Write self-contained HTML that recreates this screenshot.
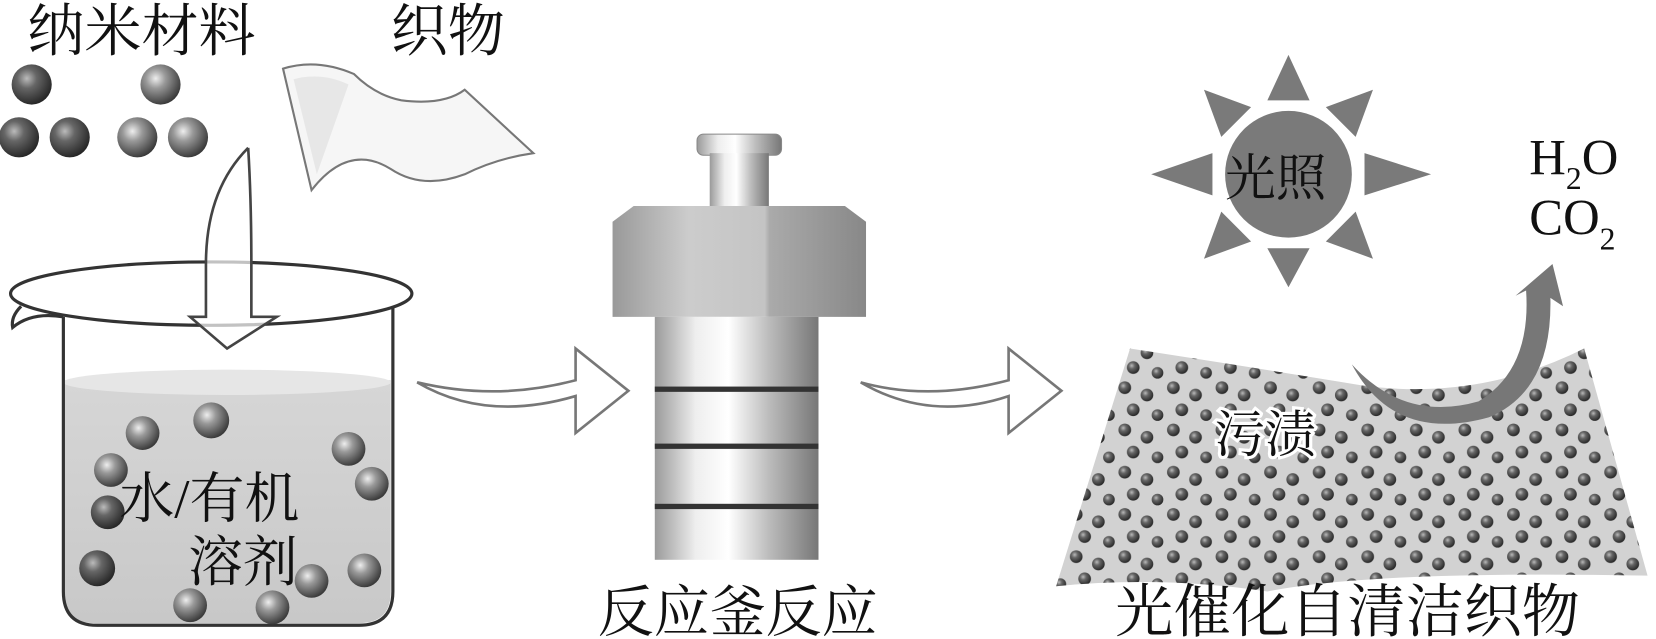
<!DOCTYPE html>
<html><head><meta charset="utf-8"><style>
html,body{margin:0;padding:0;background:#fff;overflow:hidden}
svg{display:block}
text{font-family:"Liberation Serif","Noto Serif CJK SC",serif;fill:#111}
</style></head><body>
<svg width="1656" height="639" viewBox="0 0 1568 605" preserveAspectRatio="none" xmlns="http://www.w3.org/2000/svg">
<defs>
<radialGradient id="ball" cx="0.38" cy="0.35" r="0.7">
<stop offset="0" stop-color="#eee"/><stop offset="0.35" stop-color="#999"/><stop offset="1" stop-color="#333"/></radialGradient>
<radialGradient id="dball" cx="0.38" cy="0.35" r="0.7">
<stop offset="0" stop-color="#bbb"/><stop offset="0.35" stop-color="#666"/><stop offset="1" stop-color="#222"/></radialGradient>
<linearGradient id="metal" x1="0" x2="1" y1="0" y2="0">
<stop offset="0" stop-color="#9a9a9a"/><stop offset="0.25" stop-color="#eee"/><stop offset="0.45" stop-color="#fff"/><stop offset="0.7" stop-color="#bbb"/><stop offset="1" stop-color="#777"/></linearGradient>
<linearGradient id="hex" x1="0" x2="1">
<stop offset="0" stop-color="#999"/><stop offset="0.3" stop-color="#ccc"/><stop offset="0.6" stop-color="#c4c4c4"/><stop offset="0.62" stop-color="#aaa"/><stop offset="1" stop-color="#888"/></linearGradient>
<linearGradient id="liq" x1="0" y1="0" x2="0" y2="1">
<stop offset="0" stop-color="#d6d6d6"/><stop offset="1" stop-color="#c8c8c8"/></linearGradient>
<pattern id="dots" width="46" height="40" patternUnits="userSpaceOnUse">
<circle cx="7" cy="7" r="6" fill="url(#dball)"/><circle cx="28" cy="14" r="6" fill="url(#dball)"/>
<circle cx="15" cy="28" r="6" fill="url(#dball)"/><circle cx="38" cy="33" r="5.5" fill="url(#dball)"/>
</pattern>
</defs>

<text x="26" y="48" font-size="54">纳米材料</text>
<text x="370" y="48" font-size="54">织物</text>
<circle cx="30" cy="80" r="19" fill="url(#dball)"/>
<circle cx="152" cy="80" r="19" fill="url(#ball)"/>
<circle cx="18" cy="130" r="19" fill="url(#dball)"/>
<circle cx="66" cy="130" r="19" fill="url(#dball)"/>
<circle cx="130" cy="130" r="19" fill="url(#ball)"/>
<circle cx="178" cy="130" r="19" fill="url(#ball)"/>
<path d="M268 65 Q300 55 335 70 Q355 90 380 95 Q420 100 440 85 L505 145 Q470 150 440 165 Q400 180 370 160 Q330 135 295 180 Z" fill="#f6f6f6" stroke="#777" stroke-width="2"/>
<path d="M278 75 Q305 68 330 80 L300 165 Z" fill="#ddd" opacity="0.6"/>

<path d="M60 360 L370 360 L370 560 Q370 590 340 590 L90 590 Q60 590 60 560 Z" fill="url(#liq)"/>
<ellipse cx="215" cy="362" rx="155" ry="12" fill="#e6e6e6"/>
<path d="M60 300 L60 560 Q60 592 92 592 L340 592 Q372 592 372 560 L372 290" fill="none" stroke="#333" stroke-width="3"/>
<path d="M20 290 Q10 300 12 310 Q30 295 60 300" fill="none" stroke="#333" stroke-width="3"/>
<ellipse cx="200" cy="278" rx="190" ry="30" fill="none" stroke="#333" stroke-width="3"/>
<path d="M235 140 Q195 180 195 250 L195 300 L180 300 L215 330 L262 300 L238 300 L238 250 Q238 190 235 140" fill="#fff" fill-opacity="0.7" stroke="#444" stroke-width="2.5"/>
<g>
<circle cx="200" cy="398" r="17" fill="url(#ball)"/>
<circle cx="135" cy="410" r="16" fill="url(#ball)"/>
<circle cx="330" cy="425" r="16" fill="url(#ball)"/>
<circle cx="105" cy="445" r="16" fill="url(#ball)"/>
<circle cx="352" cy="458" r="16" fill="url(#ball)"/>
<circle cx="102" cy="485" r="16" fill="url(#dball)"/>
<circle cx="92" cy="538" r="17" fill="url(#dball)"/>
<circle cx="345" cy="540" r="16" fill="url(#ball)"/>
<circle cx="295" cy="550" r="16" fill="url(#ball)"/>
<circle cx="180" cy="573" r="16" fill="url(#ball)"/>
<circle cx="258" cy="575" r="16" fill="url(#ball)"/>
</g>
<text x="113" y="490" font-size="52">水/有机</text>
<text x="178" y="550" font-size="52">溶剂</text>

<path d="M395 362 Q460 400 545 375 L545 410 L595 370 L545 330 L545 360 Q470 380 395 362 Z" fill="#fff" stroke="#777" stroke-width="2.5"/>

<rect x="660" y="127" width="80" height="20" rx="6" fill="url(#metal)" stroke="#888"/>
<rect x="672" y="145" width="56" height="55" fill="url(#metal)"/>
<path d="M580 210 L600 195 L800 195 L820 210 L820 300 L580 300 Z" fill="url(#hex)"/>
<rect x="620" y="300" width="155" height="230" fill="url(#metal)"/>
<rect x="620" y="366" width="155" height="5" fill="#333"/>
<rect x="620" y="420" width="155" height="5" fill="#333"/>
<rect x="620" y="477" width="155" height="5" fill="#333"/>
<text x="566" y="598" font-size="53">反应釜反应</text>

<path d="M815 362 Q880 400 955 375 L955 410 L1005 370 L955 330 L955 360 Q880 380 815 362 Z" fill="#fff" stroke="#777" stroke-width="2.5"/>

<g fill="#7a7a7a">
<circle cx="1220" cy="165" r="60"/>
<polygon points="1200,95 1240,95 1220,52"/>
<polygon points="1200,235 1240,235 1220,272"/>
<polygon points="1148,145 1148,185 1090,165"/>
<polygon points="1292,145 1292,185 1355,165"/>
<polygon points="1184.6,101.4 1156.4,129.6 1140,85"/>
<polygon points="1283.6,129.6 1255.4,101.4 1300,85"/>
<polygon points="1184.6,228.6 1156.4,200.4 1140,245"/>
<polygon points="1283.6,200.4 1255.4,228.6 1300,245"/>
</g>
<text x="1160" y="185" font-size="48">光照</text>
<text x="1448" y="165" font-size="48">H<tspan font-size="30" dy="14">2</tspan><tspan dy="-14">O</tspan></text>
<text x="1448" y="222" font-size="48">CO<tspan font-size="30" dy="14">2</tspan></text>

<path d="M1070 330 Q1200 350 1290 365 Q1400 380 1500 330 L1560 545 Q1300 540 1200 560 Q1100 545 1000 555 Z" fill="#d2d2d2"/>
<path d="M1070 330 Q1200 350 1290 365 Q1400 380 1500 330 L1560 545 Q1300 540 1200 560 Q1100 545 1000 555 Z" fill="url(#dots)"/>
<path d="M1280 345 Q1330 400 1400 380 Q1450 350 1445 275 L1435 280 L1470 250 L1480 290 L1468 282 Q1470 370 1410 395 Q1320 420 1280 345 Z" fill="#777"/>
<text x="1150" y="428" font-size="48" stroke="#fff" stroke-width="6" paint-order="stroke">污渍</text>
<text x="1056" y="598" font-size="55">光催化自清洁织物</text>
</svg>
</body></html>
